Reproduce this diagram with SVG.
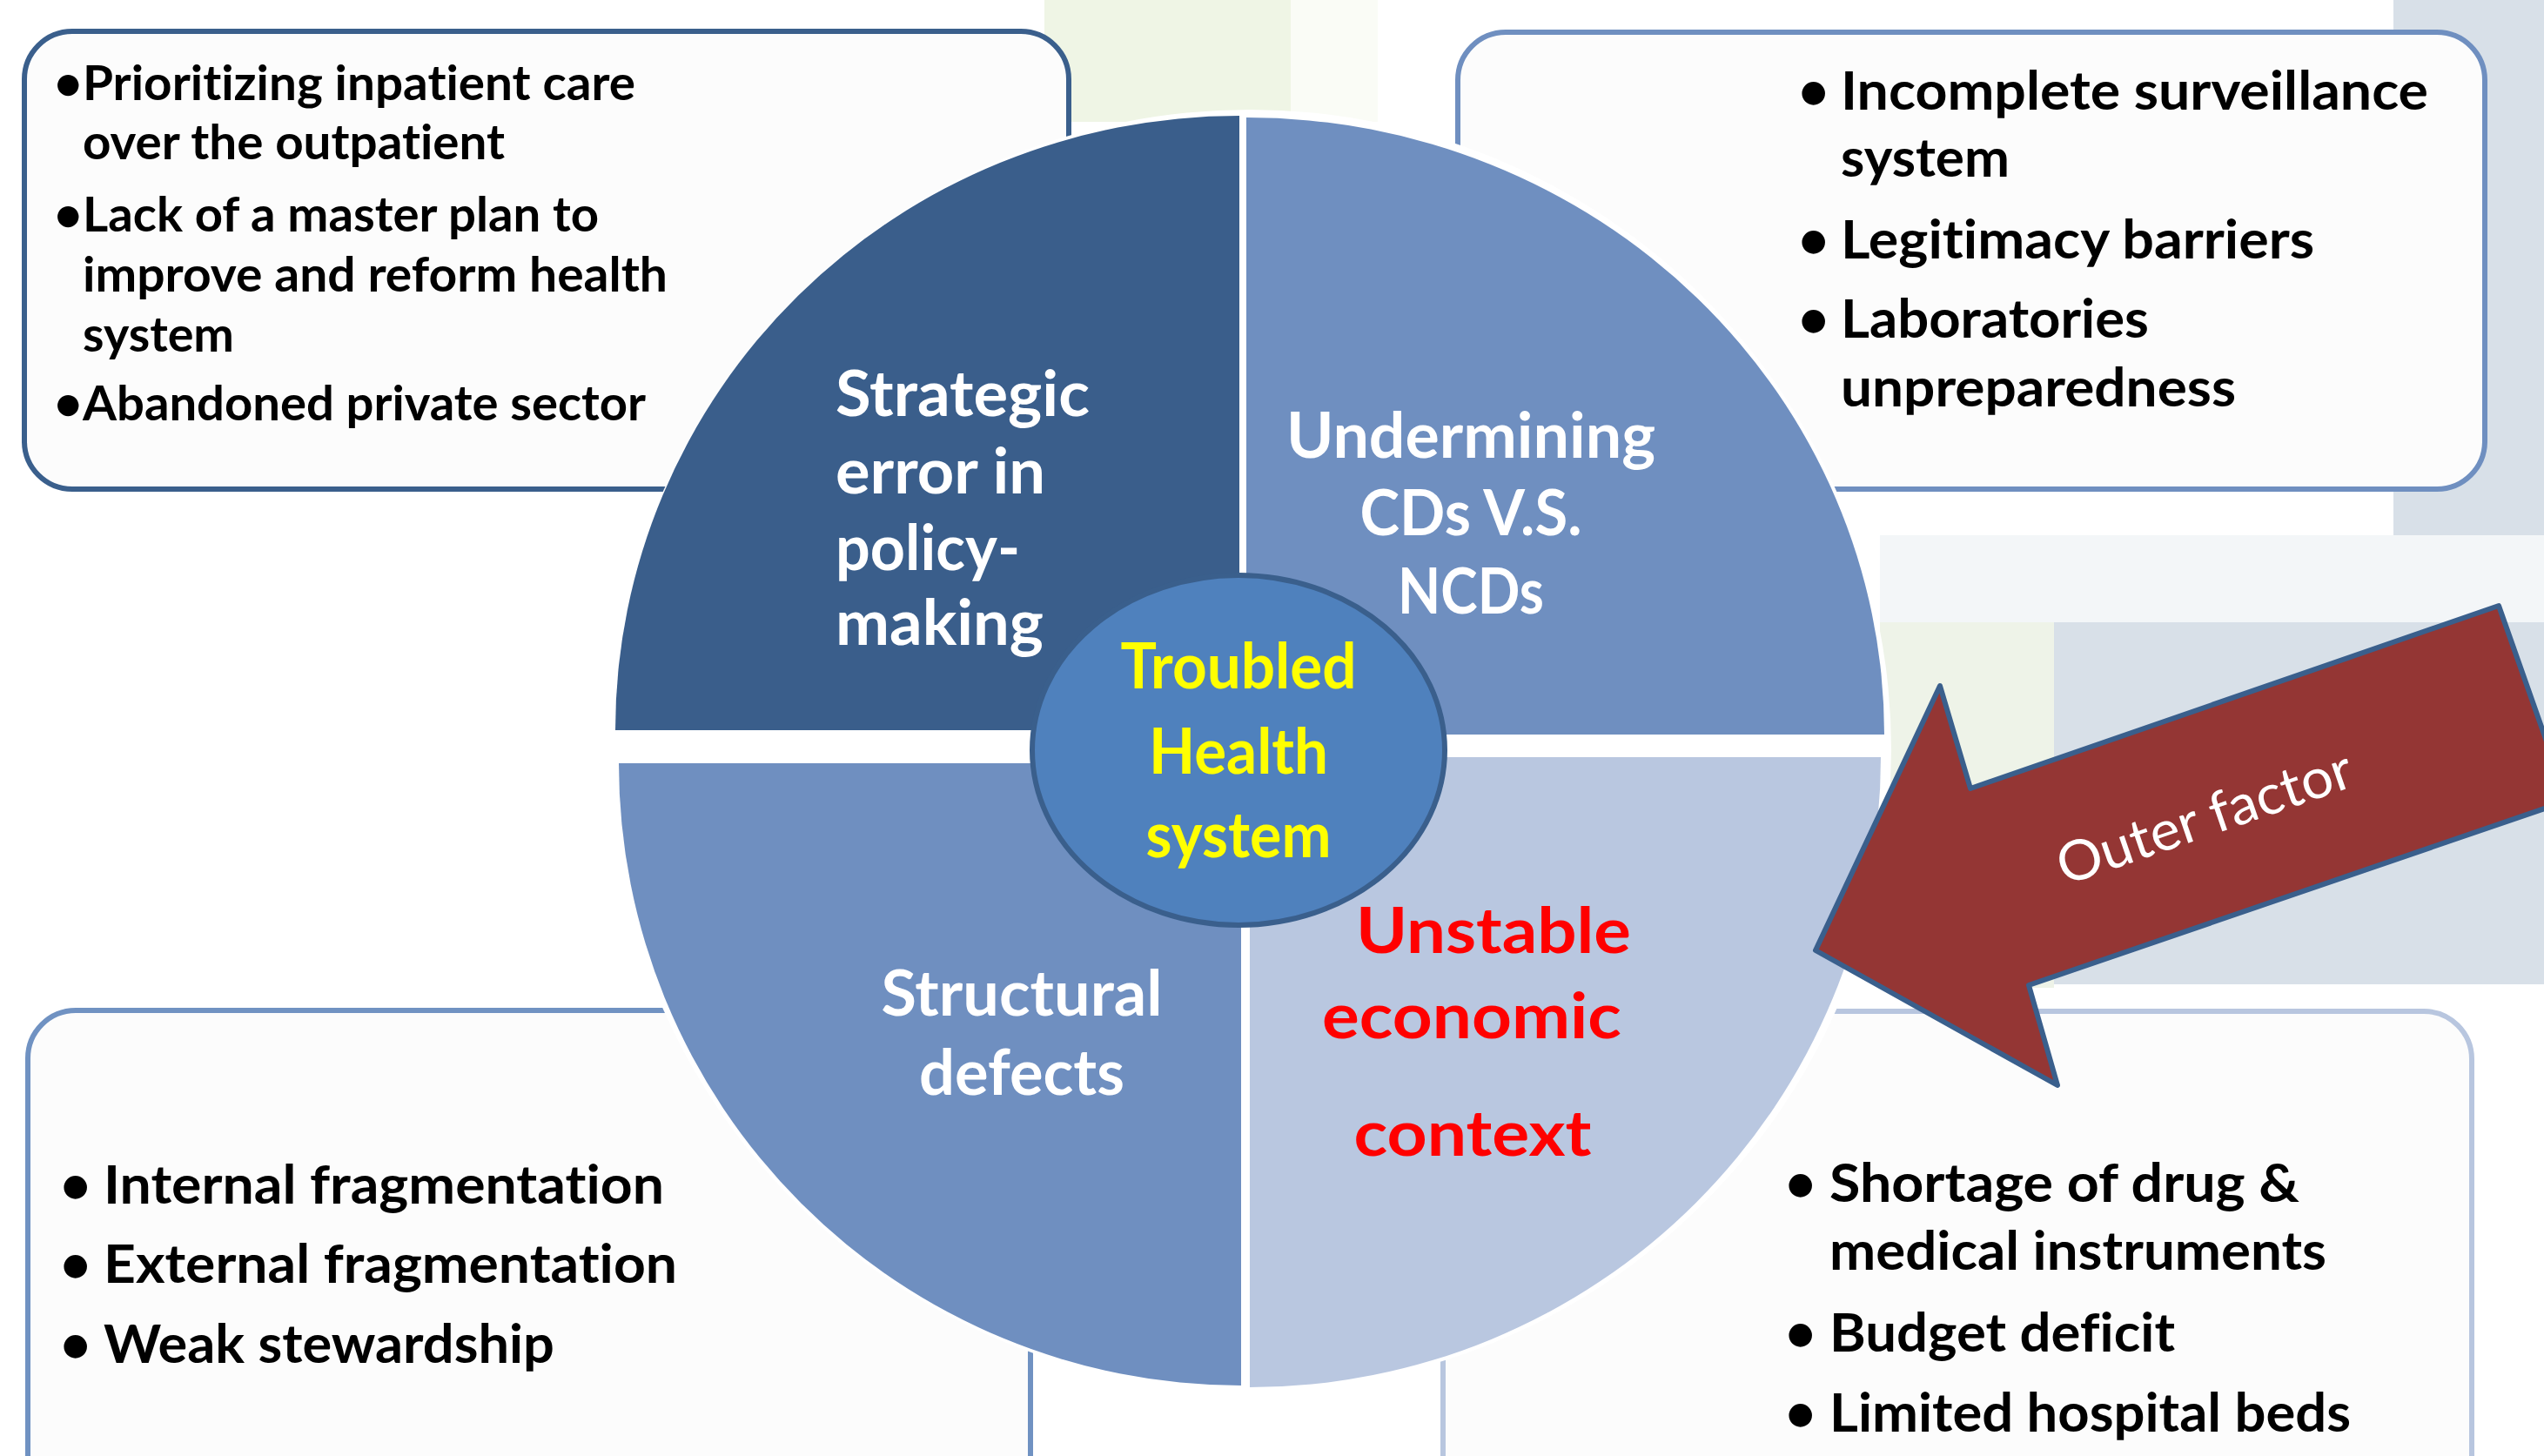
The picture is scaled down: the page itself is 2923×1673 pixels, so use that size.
<svg xmlns="http://www.w3.org/2000/svg" width="2923" height="1673" viewBox="0 0 2923 1673">
<defs>
<style>
text{font-variant-ligatures:none}
.box{fill:#FCFCFC;stroke-width:6}
.bt{font-family:Lato,"Open Sans","Liberation Sans",sans-serif;font-weight:bold;fill:#000}
.b1{font-size:56px}
.b2{font-size:61px}
.qt{font-family:Lato,"Open Sans","Liberation Sans",sans-serif;font-weight:bold;font-size:72px}
.w{fill:#FFFFFF}
.y{fill:#FFFF00}
.r{fill:#FF0000}
.mid{text-anchor:middle}
</style>
</defs>
<rect x="0" y="0" width="2923" height="1673" fill="#FFFFFF"/>
<g id="background">
<rect x="1200" y="0" width="283" height="140" fill="#EFF5E5"/>
<rect x="1483" y="0" width="100" height="140" fill="#FAFCF6"/>
<rect x="2750" y="0" width="173" height="640" fill="#D8E0E8"/>
<rect x="2160" y="615" width="763" height="100" fill="#F3F6F8"/>
<rect x="2160" y="715" width="200" height="420" fill="#EEF3E8"/>
<rect x="2360" y="715" width="563" height="416" fill="#D8E0E8"/>
</g>
<g id="box-top-left">
<rect class="box" x="28" y="36" width="1200" height="526" rx="55" stroke="#3A5F8C"/>
<text class="bt b1" x="62" y="115">•</text>
<text class="bt b1" x="95" y="115" textLength="635" lengthAdjust="spacingAndGlyphs">Prioritizing inpatient care</text>
<text class="bt b1" x="95" y="183" textLength="485" lengthAdjust="spacingAndGlyphs">over the outpatient</text>
<text class="bt b1" x="62" y="266">•</text>
<text class="bt b1" x="95" y="266" textLength="593" lengthAdjust="spacingAndGlyphs">Lack of a master plan to</text>
<text class="bt b1" x="95" y="335" textLength="672" lengthAdjust="spacingAndGlyphs">improve and reform health</text>
<text class="bt b1" x="95" y="404" textLength="174" lengthAdjust="spacingAndGlyphs">system</text>
<text class="bt b1" x="62" y="483">•</text>
<text class="bt b1" x="95" y="483" textLength="647" lengthAdjust="spacingAndGlyphs">Abandoned private sector</text>
</g>
<g id="box-top-right">
<rect class="box" x="1675" y="37" width="1180" height="525" rx="55" stroke="#6F8FC0"/>
<text class="bt b2" x="2066" y="126">•</text>
<text class="bt b2" x="2115" y="126" textLength="675" lengthAdjust="spacingAndGlyphs">Incomplete surveillance</text>
<text class="bt b2" x="2115" y="203" textLength="194" lengthAdjust="spacingAndGlyphs">system</text>
<text class="bt b2" x="2066" y="297">•</text>
<text class="bt b2" x="2115" y="297" textLength="544" lengthAdjust="spacingAndGlyphs">Legitimacy barriers</text>
<text class="bt b2" x="2066" y="388">•</text>
<text class="bt b2" x="2115" y="388" textLength="354" lengthAdjust="spacingAndGlyphs">Laboratories</text>
<text class="bt b2" x="2115" y="467" textLength="454" lengthAdjust="spacingAndGlyphs">unpreparedness</text>
</g>
<g id="box-bottom-left">
<rect class="box" x="32" y="1161" width="1152" height="600" rx="55" stroke="#7092C2"/>
<text class="bt b2" x="69" y="1383">•</text>
<text class="bt b2" x="119" y="1383" textLength="644" lengthAdjust="spacingAndGlyphs">Internal fragmentation</text>
<text class="bt b2" x="69" y="1474">•</text>
<text class="bt b2" x="119" y="1474" textLength="659" lengthAdjust="spacingAndGlyphs">External fragmentation</text>
<text class="bt b2" x="69" y="1566">•</text>
<text class="bt b2" x="119" y="1566" textLength="518" lengthAdjust="spacingAndGlyphs">Weak stewardship</text>
</g>
<g id="box-bottom-right">
<rect class="box" x="1658" y="1162" width="1182" height="600" rx="55" stroke="#B8C6DF"/>
<text class="bt b2" x="2051" y="1381">•</text>
<text class="bt b2" x="2102" y="1381" textLength="540" lengthAdjust="spacingAndGlyphs">Shortage of drug &amp;</text>
<text class="bt b2" x="2102" y="1459" textLength="571" lengthAdjust="spacingAndGlyphs">medical instruments</text>
<text class="bt b2" x="2051" y="1553">•</text>
<text class="bt b2" x="2102" y="1553" textLength="397" lengthAdjust="spacingAndGlyphs">Budget deficit</text>
<text class="bt b2" x="2051" y="1645">•</text>
<text class="bt b2" x="2102" y="1645" textLength="599" lengthAdjust="spacingAndGlyphs">Limited hospital beds</text>
</g>
<ellipse id="circle-backdrop" cx="1436" cy="862" rx="737" ry="736" fill="#FFFFFF"/>
<g id="quadrant-strategic">
<path d="M1424,839 L707,839 A717,706 0 0 1 1424,133 Z" fill="#3A5E8B"/>
<text class="qt w" x="960" y="478" textLength="292" lengthAdjust="spacingAndGlyphs">Strategic</text>
<text class="qt w" x="960" y="567" textLength="241" lengthAdjust="spacingAndGlyphs">error in</text>
<text class="qt w" x="960" y="655" textLength="212" lengthAdjust="spacingAndGlyphs">policy-</text>
<text class="qt w" x="960" y="741" textLength="239" lengthAdjust="spacingAndGlyphs">making</text>
</g>
<g id="quadrant-undermining">
<path d="M1432,844 L1432,135 A733,709 0 0 1 2165,844 Z" fill="#6F8FC0"/>
<text class="qt w mid" x="1690" y="526" textLength="424" lengthAdjust="spacingAndGlyphs">Undermining</text>
<text class="qt w mid" x="1690" y="615" textLength="255" lengthAdjust="spacingAndGlyphs">CDs V.S.</text>
<text class="qt w mid" x="1690" y="705" textLength="168" lengthAdjust="spacingAndGlyphs">NCDs</text>
</g>
<g id="quadrant-structural">
<path d="M1426,877 L1426,1592 A715,715 0 0 1 711,877 Z" fill="#6F8FC0"/>
<text class="qt w mid" x="1174" y="1167" textLength="323" lengthAdjust="spacingAndGlyphs">Structural</text>
<text class="qt w mid" x="1174" y="1258" textLength="236" lengthAdjust="spacingAndGlyphs">defects</text>
</g>
<g id="quadrant-economic">
<path d="M1436,870 L2161,870 A725,724 0 0 1 1436,1594 Z" fill="#B9C7E0"/>
<text class="qt r mid" x="1716" y="1095" textLength="316" lengthAdjust="spacingAndGlyphs">Unstable</text>
<text class="qt r mid" x="1691" y="1193" textLength="344" lengthAdjust="spacingAndGlyphs">economic</text>
<text class="qt r mid" x="1692" y="1328" textLength="273" lengthAdjust="spacingAndGlyphs">context</text>
</g>
<g id="center-node">
<ellipse cx="1423" cy="862" rx="237" ry="201" fill="#4F81BD" stroke="#3A5F8C" stroke-width="6"/>
<text class="qt y mid" x="1423" y="791" textLength="271" lengthAdjust="spacingAndGlyphs">Troubled</text>
<text class="qt y mid" x="1423" y="889" textLength="206" lengthAdjust="spacingAndGlyphs">Health</text>
<text class="qt y mid" x="1423" y="985" textLength="213" lengthAdjust="spacingAndGlyphs">system</text>
</g>
<g id="connectors">
<g id="outer-factor-arrow">
<polygon points="2086,1092 2229,788 2264,906 2871,696 2950,920 2331,1132 2364,1247" fill="#943634" stroke="#3A5F8C" stroke-width="6" stroke-linejoin="round"/>
<text x="2540" y="960" transform="rotate(-19 2540 960)" text-anchor="middle" font-family="Lato,'Open Sans','Liberation Sans',sans-serif" font-size="64" fill="#FFFFFF" textLength="355" lengthAdjust="spacingAndGlyphs">Outer factor</text>
</g>
</g>
</svg>
